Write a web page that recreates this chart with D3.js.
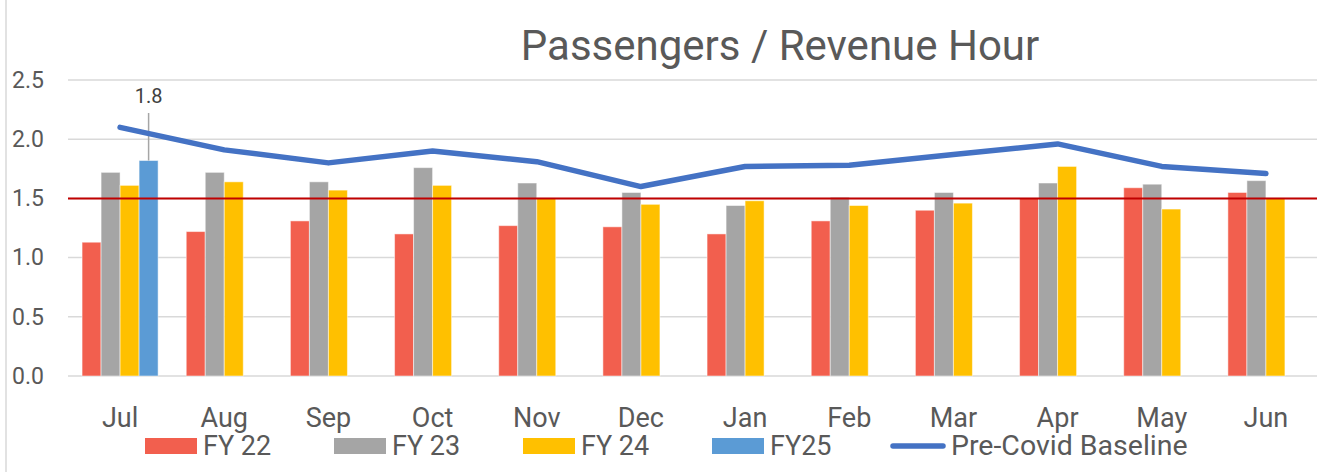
<!DOCTYPE html>
<html>
<head>
<meta charset="utf-8">
<script src="https://cdn.jsdelivr.net/npm/d3@7"></script>
<style>
  body { margin: 0; background: #fff; }
  svg { display: block; font-family: Roboto, "Noto Sans", sans-serif; }
</style>
</head>
<body>
<svg id="chart"></svg>
<script>
const months = ['Jul', 'Aug', 'Sep', 'Oct', 'Nov', 'Dec', 'Jan', 'Feb', 'Mar', 'Apr', 'May', 'Jun'];
const series = ['FY 22', 'FY 23', 'FY 24', 'FY25'];
const fy22 = [1.13, 1.22, 1.31, 1.20, 1.27, 1.26, 1.20, 1.31, 1.40, 1.50, 1.59, 1.55];
const fy23 = [1.72, 1.72, 1.64, 1.76, 1.63, 1.55, 1.44, 1.51, 1.55, 1.63, 1.62, 1.65];
const fy24 = [1.61, 1.64, 1.57, 1.61, 1.50, 1.45, 1.48, 1.44, 1.46, 1.77, 1.41, 1.50];
const fy25 = [1.82, null, null, null, null, null, null, null, null, null, null, null];
const baseline = [2.10, 1.91, 1.80, 1.90, 1.81, 1.60, 1.77, 1.78, 1.87, 1.96, 1.77, 1.71];
const target = 1.5;
const yTicks = [0, 0.5, 1.0, 1.5, 2.0, 2.5];
const colors = { 'FY 22': '#F25F4E', 'FY 23': '#A5A5A5', 'FY 24': '#FFC000', 'FY25': '#5B9BD5' };
const lineColor = '#4472C4';

const width = 1317, height = 472;
const textColor = '#595959';

const svg = d3.select('#chart')
    .attr('width', width)
    .attr('height', height);

// chart border (left edge visible)
svg.append('line')
    .attr('x1', 6).attr('x2', 6)
    .attr('y1', 0).attr('y2', height)
    .attr('stroke', '#D9D9D9')
    .attr('stroke-width', 1.5);

const x0 = d3.scaleBand()
    .domain(months)
    .range([68, 1318])
    .paddingInner(0.27)
    .paddingOuter(0.135);

const x1 = d3.scaleBand()
    .domain(series)
    .range([0, x0.bandwidth()]);

const y = d3.scaleLinear()
    .domain([0, 2.5])
    .range([376, 80]);

// gridlines
svg.append('g')
    .selectAll('line')
    .data(yTicks)
    .join('line')
    .attr('x1', 68).attr('x2', width)
    .attr('y1', d => y(d)).attr('y2', d => y(d))
    .attr('stroke', '#D9D9D9')
    .attr('stroke-width', 1.5);

// y axis labels
const yaxis = d3.axisLeft(y).tickValues(yTicks).tickFormat(d3.format('.1f')).tickSize(0).tickPadding(0);
const yg = svg.append('g')
    .attr('transform', 'translate(44,0)')
    .call(yaxis);
yg.select('.domain').remove();
yg.selectAll('text')
    .attr('fill', textColor)
    .style('font-size', '23px')
    .style('font-family', 'Roboto');

// x axis labels
const xaxis = d3.axisBottom(x0).tickSize(0).tickPadding(0);
const xg = svg.append('g')
    .attr('transform', 'translate(0,408)')
    .call(xaxis);
xg.select('.domain').remove();
xg.selectAll('text')
    .attr('fill', textColor)
    .attr('dy', '0.72em')
    .style('font-size', '27px')
    .style('font-family', 'Roboto');

// bars
const rows = months.map((m, i) => ({
    month: m,
    values: [
        { key: 'FY 22', value: fy22[i] },
        { key: 'FY 23', value: fy23[i] },
        { key: 'FY 24', value: fy24[i] },
        { key: 'FY25', value: fy25[i] }
    ].filter(d => d.value != null)
}));

svg.append('g')
    .selectAll('g')
    .data(rows)
    .join('g')
    .attr('transform', d => `translate(${x0(d.month)},0)`)
    .selectAll('rect')
    .data(d => d.values)
    .join('rect')
    .attr('x', d => x1(d.key))
    .attr('width', x1.bandwidth())
    .attr('y', d => y(d.value))
    .attr('height', d => y(0) - y(d.value))
    .attr('fill', d => colors[d.key])
    .attr('stroke', '#ffffff')
    .attr('stroke-opacity', 0.5)
    .attr('stroke-width', 1);

// data label for FY25 Jul
const labelX = x0('Jul') + x1('FY25') + x1.bandwidth() / 2;
svg.append('line')
    .attr('x1', labelX).attr('x2', labelX)
    .attr('y1', 113).attr('y2', y(fy25[0]))
    .attr('stroke', '#A6A6A6')
    .attr('stroke-width', 1.5);
svg.append('text')
    .attr('x', labelX)
    .attr('y', 103)
    .attr('text-anchor', 'middle')
    .attr('fill', '#404040')
    .style('font-size', '20px')
    .text(d3.format('.1f')(fy25[0]));

// target line
svg.append('line')
    .attr('x1', 68).attr('x2', width)
    .attr('y1', y(target)).attr('y2', y(target))
    .attr('stroke', '#C00000')
    .attr('stroke-width', 2);

// pre-covid baseline
const line = d3.line()
    .x((d, i) => x0(months[i]) + x0.bandwidth() / 2)
    .y(d => y(d));
svg.append('path')
    .attr('d', line(baseline))
    .attr('fill', 'none')
    .attr('stroke', lineColor)
    .attr('stroke-width', 5.5)
    .attr('stroke-linecap', 'round')
    .attr('stroke-linejoin', 'round');

// title
svg.append('text')
    .attr('x', 780)
    .attr('y', 60)
    .attr('text-anchor', 'middle')
    .attr('fill', textColor)
    .style('font-size', '42px')
    .text('Passengers / Revenue Hour');

// legend
const legendItems = series.concat(['Pre-Covid Baseline']);
const legend = svg.append('g')
    .selectAll('g')
    .data(legendItems)
    .join('g')
    .attr('transform', (d, i) => `translate(${145 + i * 189},0)`);

legend.filter(d => d !== 'Pre-Covid Baseline')
    .append('rect')
    .attr('x', 0).attr('y', 438)
    .attr('width', 52).attr('height', 16)
    .attr('fill', d => colors[d]);

legend.filter(d => d === 'Pre-Covid Baseline')
    .append('line')
    .attr('x1', -8).attr('x2', 42)
    .attr('y1', 446).attr('y2', 446)
    .attr('stroke', lineColor)
    .attr('stroke-width', 5.5)
    .attr('stroke-linecap', 'round');

legend.append('text')
    .attr('x', d => d === 'Pre-Covid Baseline' ? 50 : 58)
    .attr('y', 455)
    .attr('fill', textColor)
    .style('font-size', d => d === 'Pre-Covid Baseline' ? '28.5px' : '27px')
    .text(d => d);
</script>
</body>
</html>
